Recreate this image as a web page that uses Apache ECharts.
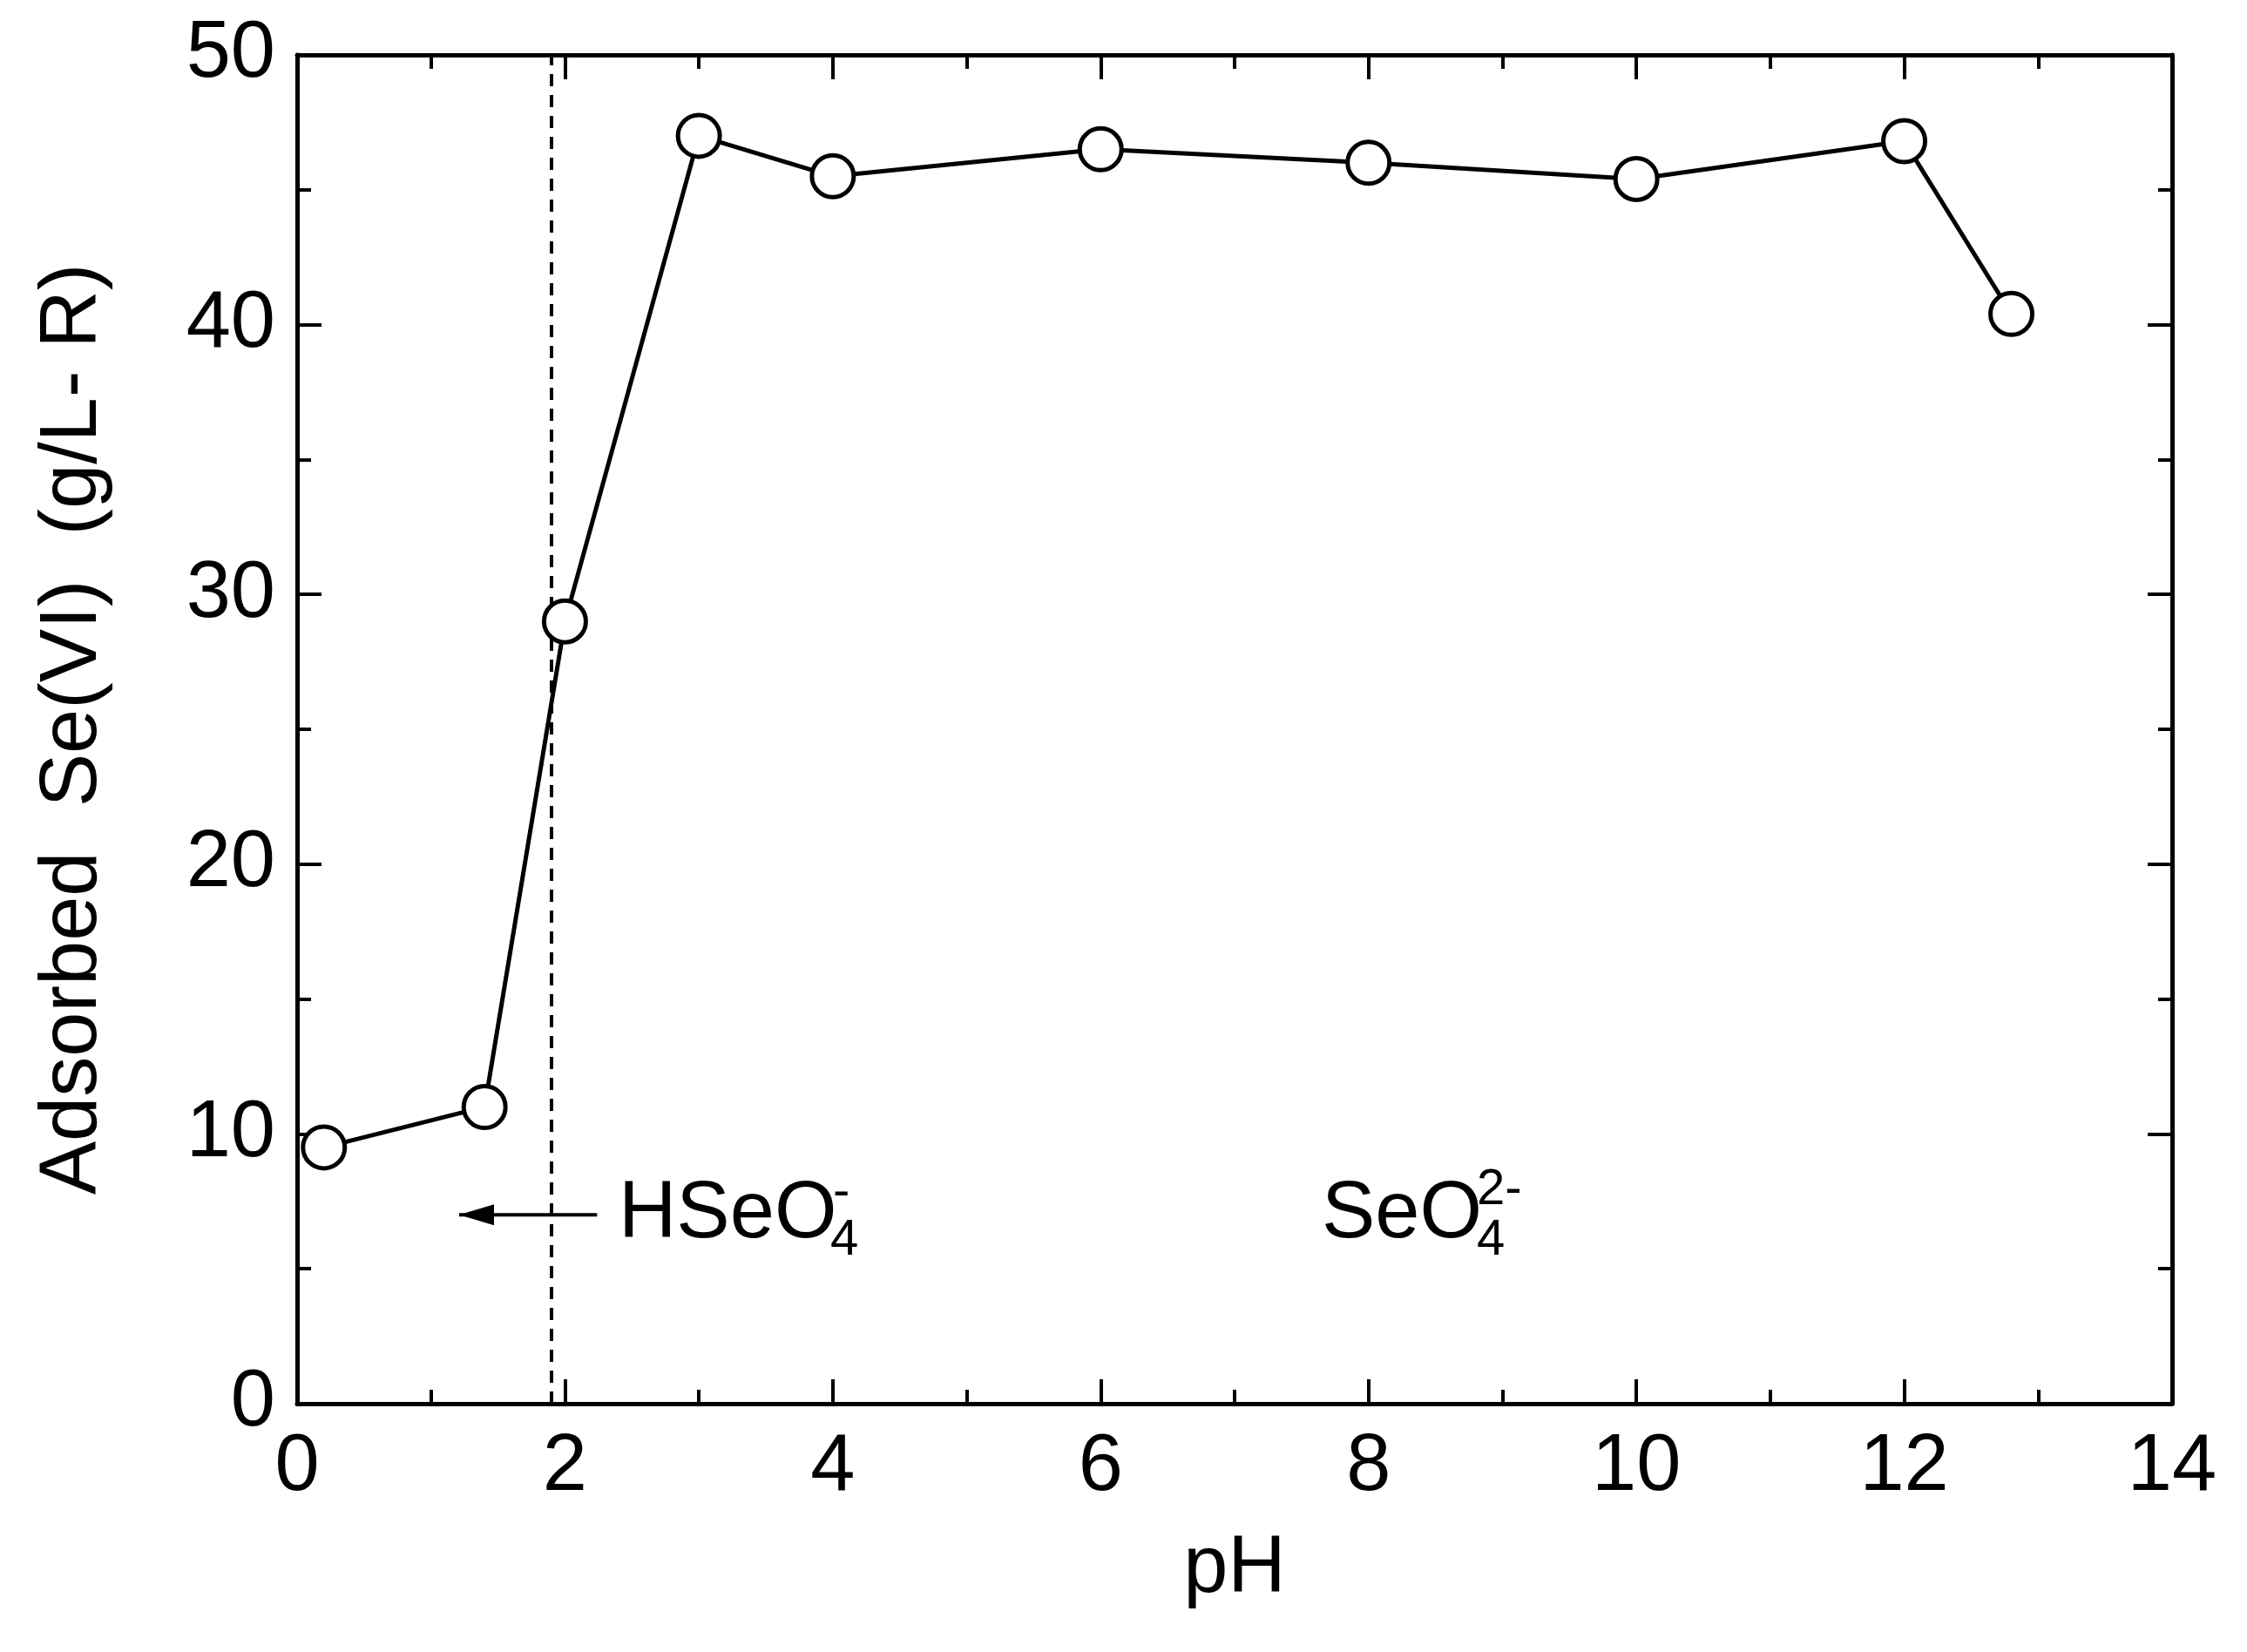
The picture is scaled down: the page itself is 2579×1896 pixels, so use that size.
<!DOCTYPE html>
<html><head><meta charset="utf-8">
<script src="https://cdn.jsdelivr.net/npm/echarts@6/dist/echarts.min.js"></script>
<style>html,body{margin:0;background:#fff}#c{width:2579px;height:1896px}</style>
</head><body><div id="c"></div>
<script>
const phValues = [0.2, 1.4, 2, 3, 4, 6, 8, 10, 12, 12.8];
const adsorbed = [9.5, 11, 29, 47, 45.5, 46.5, 46, 45.4, 46.8, 40.4];
const xTicks = [0, 2, 4, 6, 8, 10, 12, 14];
const yTicks = [0, 10, 20, 30, 40, 50];
const boundaryPH = 1.9;

const F = 'Liberation Sans, Arial, sans-serif';
const chart = echarts.init(document.getElementById('c'));
const axisCommon = {
  axisLine: {show: true, onZero: false, lineStyle: {color: '#000', width: 5}},
  axisTick: {inside: true, length: 28, lineStyle: {color: '#000', width: 4}},
  minorTick: {show: true, splitNumber: 2, length: 16, lineStyle: {color: '#000', width: 4}},
  splitLine: {show: false}
};
const lbl = {color: '#000', fontSize: 92, fontFamily: F};
chart.setOption({
  animation: false,
  grid: {left: 341, right: 86, top: 63, bottom: 285},
  xAxis: [
    Object.assign({type: 'value', min: 0, max: 14, interval: 2, position: 'bottom',
      name: 'pH', nameLocation: 'middle', nameGap: 145, nameTextStyle: lbl,
      axisLabel: Object.assign({margin: 28}, lbl)}, axisCommon),
    Object.assign({type: 'value', min: 0, max: 14, interval: 2, position: 'top',
      axisLabel: {show: false}}, axisCommon)
  ],
  yAxis: [
    Object.assign({type: 'value', min: 0, max: 50, interval: 10, position: 'left',
      name: 'Adsorbed  Se(VI)  (g/L- R)', nameLocation: 'middle', nameGap: 210, nameTextStyle: lbl,
      axisLabel: Object.assign({margin: 25}, lbl)}, axisCommon),
    Object.assign({type: 'value', min: 0, max: 50, interval: 10, position: 'right',
      axisLabel: {show: false}}, axisCommon)
  ],
  series: [
    {type: 'line', data: phValues.map((x, i) => [x, adsorbed[i]]),
     symbol: 'circle', symbolSize: 48, z: 5,
     lineStyle: {color: '#000', width: 5},
     itemStyle: {color: '#fff', borderColor: '#000', borderWidth: 5},
     markLine: {silent: true, symbol: 'none', label: {show: false},
       lineStyle: {color: '#000', width: 4, type: [14, 10]},
       data: [{xAxis: boundaryPH}]}},
    {type: 'line', data: [[2.24, 7.0], [1.21, 7.0]], symbol: 'none',
     lineStyle: {color: '#000', width: 4}, z: 3}
  ]
});
function px(x, y) { return chart.convertToPixel({xAxisIndex: 0, yAxisIndex: 0}, [x, y]); }
const tip = px(1.21, 7.0);
chart.setOption({graphic: [
  {type: 'polygon', z: 10, shape: {points: [[tip[0], tip[1]], [tip[0] + 40, tip[1] - 12], [tip[0] + 40, tip[1] + 12]]},
   style: {fill: '#000'}},
  {type: 'text', z: 10, position: px(2.4, 7.0),
   style: {text: 'HSeO', font: '92px ' + F, fill: '#000', textVerticalAlign: 'middle'}},
  {type: 'text', z: 10, position: (p => [p[0] + 243, p[1] + 30])(px(2.4, 7.0)),
   style: {text: '4', font: '58px ' + F, fill: '#000', textVerticalAlign: 'middle'}},
  {type: 'text', z: 10, position: (p => [p[0] + 246, p[1] - 25])(px(2.4, 7.0)),
   style: {text: '-', font: '58px ' + F, fill: '#000', textVerticalAlign: 'middle'}},
  {type: 'text', z: 10, position: px(7.65, 7.0),
   style: {text: 'SeO', font: '92px ' + F, fill: '#000', textVerticalAlign: 'middle'}},
  {type: 'text', z: 10, position: (p => [p[0] + 178, p[1] + 30])(px(7.65, 7.0)),
   style: {text: '4', font: '58px ' + F, fill: '#000', textVerticalAlign: 'middle'}},
  {type: 'text', z: 10, position: (p => [p[0] + 178, p[1] - 28])(px(7.65, 7.0)),
   style: {text: '2-', font: '58px ' + F, fill: '#000', textVerticalAlign: 'middle'}}
]});
</script></body></html>
